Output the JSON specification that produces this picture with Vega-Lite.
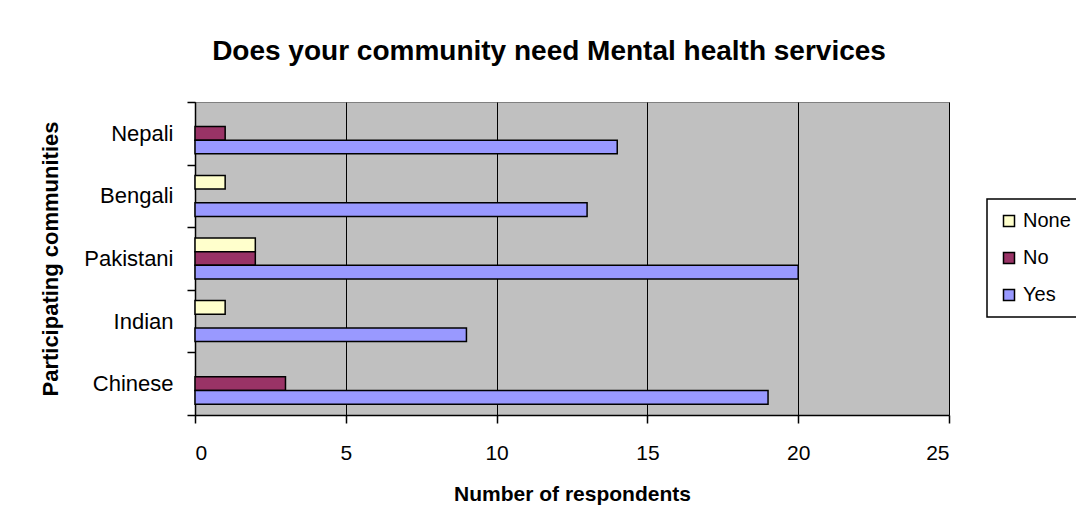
{
  "$schema": "https://vega.github.io/schema/vega-lite/v6.json",
  "autosize": {"type": "none"},
  "width": 754,
  "height": 313,
  "padding": {"left": 195, "top": 102, "right": 127, "bottom": 114},
  "background": "white",
  "title": {
    "text": "Does your community need Mental health services",
    "font": "Liberation Sans",
    "fontSize": 28,
    "fontWeight": "bold",
    "color": "black",
    "anchor": "middle",
    "offset": 25,
    "dx": -23
  },
  "data": {
    "values": [
      {"community": "Nepali", "answer": "No", "count": 1},
      {"community": "Nepali", "answer": "Yes", "count": 14},
      {"community": "Bengali", "answer": "None", "count": 1},
      {"community": "Bengali", "answer": "Yes", "count": 13},
      {"community": "Pakistani", "answer": "None", "count": 2},
      {"community": "Pakistani", "answer": "No", "count": 2},
      {"community": "Pakistani", "answer": "Yes", "count": 20},
      {"community": "Indian", "answer": "None", "count": 1},
      {"community": "Indian", "answer": "Yes", "count": 9},
      {"community": "Chinese", "answer": "No", "count": 3},
      {"community": "Chinese", "answer": "Yes", "count": 19}
    ]
  },
  "mark": {"type": "bar", "stroke": "black", "strokeWidth": 1.5},
  "encoding": {
    "y": {
      "field": "community",
      "type": "nominal",
      "sort": ["Nepali", "Bengali", "Pakistani", "Indian", "Chinese"],
      "scale": {"paddingInner": 0, "paddingOuter": 0},
      "axis": {
        "title": "Participating communities",
        "tickBand": "extent",
        "grid": false,
        "tickSize": 8,
        "labelFontSize": 22,
        "labelPadding": 14,
        "titleFontSize": 22,
        "titlePadding": 21
      }
    },
    "yOffset": {
      "field": "answer",
      "type": "nominal",
      "sort": ["None", "No", "Yes"],
      "scale": {"domain": ["None", "No", "Yes"], "paddingInner": 0, "paddingOuter": 0.79}
    },
    "x": {
      "field": "count",
      "type": "quantitative",
      "scale": {"domain": [0, 25], "nice": false},
      "axis": {
        "title": "Number of respondents",
        "values": [0, 5, 10, 15, 20, 25],
        "grid": true,
        "gridColor": "black",
        "gridOpacity": 1,
        "gridWidth": 1,
        "tickSize": 8,
        "labelFontSize": 21,
        "labelPadding": 19,
        "titleFontSize": 21,
        "titlePadding": 20
      }
    },
    "color": {
      "field": "answer",
      "type": "nominal",
      "scale": {"domain": ["None", "No", "Yes"], "range": ["#FFFFCC", "#993366", "#9999FF"]},
      "legend": {
        "title": null,
        "orient": "none",
        "legendX": 792,
        "legendY": 97
      }
    }
  },
  "config": {
    "font": "Liberation Sans",
    "view": {"fill": "#C0C0C0", "stroke": "#808080", "strokeWidth": 1},
    "axis": {
      "domainColor": "black",
      "domainWidth": 1.5,
      "tickColor": "black",
      "tickWidth": 1.5,
      "labelFont": "Liberation Sans",
      "labelColor": "black",
      "titleFont": "Liberation Sans",
      "titleFontWeight": "bold",
      "titleColor": "black"
    },
    "legend": {
      "strokeColor": "black",
      "strokeWidth": 1.5,
      "fillColor": "white",
      "padding": 12,
      "labelFont": "Liberation Sans",
      "labelFontSize": 20,
      "labelColor": "black",
      "symbolType": "square",
      "symbolSize": 121,
      "symbolStrokeColor": "black",
      "symbolStrokeWidth": 1.5,
      "symbolOpacity": 1,
      "rowPadding": 17,
      "labelOffset": 4
    }
  }
}
